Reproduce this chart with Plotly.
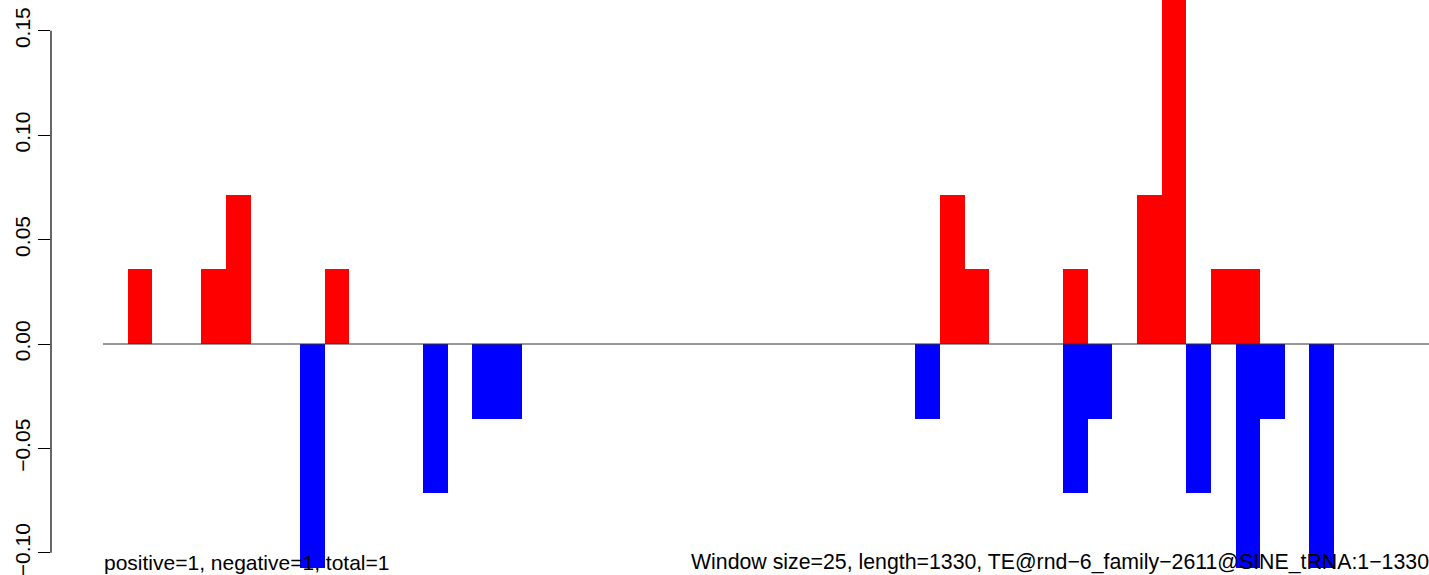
import plotly.graph_objects as go

# Window index (window size 25 over length 1330 -> 54 windows)
window_index = list(range(54))

# Positive-strand density per window
positive_values = [0.0] * 54
for i, v in {1: 0.0357, 4: 0.0357, 5: 0.0714, 9: 0.0357, 34: 0.0714, 35: 0.0357,
             39: 0.0357, 42: 0.0714, 43: 0.1786, 45: 0.0357, 46: 0.0357}.items():
    positive_values[i] = v

# Negative-strand density per window
negative_values = [0.0] * 54
for i, v in {8: -0.1071, 13: -0.0714, 15: -0.0357, 16: -0.0357, 33: -0.0357,
             39: -0.0714, 40: -0.0357, 44: -0.0714, 46: -0.1071, 47: -0.0357,
             49: -0.1071}.items():
    negative_values[i] = v

tick_values = [-0.10, -0.05, 0.00, 0.05, 0.10, 0.15]
tick_labels = ["\u22120.10", "\u22120.05", "0.00", "0.05", "0.10", "0.15"]

left_text = "positive=1, negative=1, total=1"
right_text = "Window size=25, length=1330, TE@rnd\u22126_family\u22122611@SINE_tRNA:1\u22121330"

x_centers = [i + 0.5 for i in window_index]

fig = go.Figure()
fig.add_trace(go.Bar(x=x_centers, y=positive_values, width=1.0, marker=dict(color="#FF0000", line=dict(width=0)),
                     showlegend=False, hoverinfo="skip"))
fig.add_trace(go.Bar(x=x_centers, y=negative_values, width=1.0, marker=dict(color="#0000FF", line=dict(width=0)),
                     showlegend=False, hoverinfo="skip"))

n = len(window_index)
fig.add_shape(type="line", xref="x", yref="y", x0=0, x1=n, y0=0, y1=0,
              line=dict(color="#333333", width=1), layer="above")
fig.add_shape(type="line", xref="paper", yref="y", x0=0, x1=0, y0=tick_values[0], y1=tick_values[-1],
              line=dict(color="black", width=1.2), layer="above")

fig.add_annotation(x=0, xref="x", xanchor="left", y=0, yref="paper", yanchor="bottom",
                   text=left_text, showarrow=False, font=dict(size=21, color="black"),
                   xshift=-1, yshift=-1)
fig.add_annotation(x=1, xref="paper", xanchor="right", y=0, yref="paper", yanchor="bottom",
                   text=right_text, showarrow=False, font=dict(size=21.3, color="black"),
                   xshift=2, yshift=-1)

fig.update_layout(
    width=1429, height=575,
    margin=dict(l=51, r=0, t=0, b=0),
    paper_bgcolor="white", plot_bgcolor="white",
    barmode="overlay", bargap=0,
    font=dict(family="Liberation Sans, Arial, sans-serif", size=21, color="black"),
    xaxis=dict(range=[-2.112, 53.858], showgrid=False, zeroline=False, showline=False,
               showticklabels=False, ticks=""),
    yaxis=dict(range=[-0.11063, 0.16475], showgrid=False, zeroline=False, showline=False,
               tickmode="array", tickvals=tick_values, ticktext=tick_labels,
               ticks="outside", ticklen=12, tickwidth=1.2, tickcolor="black",
               tickangle=-90, tickfont=dict(size=21, color="black"), automargin=False,
               ticklabeloverflow="allow"),
)

fig.write_html("out.html", config={"displayModeBar": False},
               post_script="document.body.style.margin='0';document.body.style.overflow='hidden';")
